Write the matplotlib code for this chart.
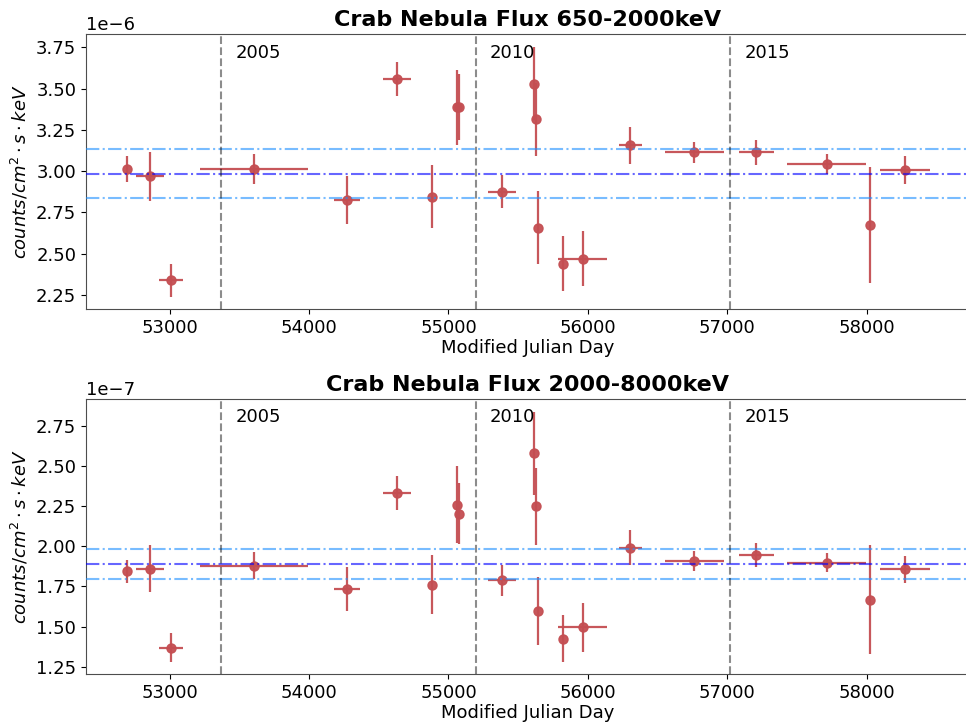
import numpy as np
import matplotlib
matplotlib.use('Agg')
import matplotlib.pyplot as plt
import matplotlib.transforms as mtransforms

# --- light curve bins (MJD centre, half width) ---
mjd = [52696, 52861, 53009, 53605, 54273, 54630, 54881, 55062, 55078, 55383,
       55613, 55625, 55640, 55824, 55963, 56305, 56764, 57209, 57714, 58027, 58276]
mjd_err = [0, 100, 86, 386, 95, 100, 0, 0, 0, 102,
           0, 0, 0, 0, 177, 85, 210, 126, 284, 0, 177]

# --- 650-2000 keV flux (1e-6 counts/cm2/s/keV) ---
flux_lo = [3.012, 2.968, 2.339, 3.012, 2.823, 3.558, 2.844, 3.385, 3.390, 2.875,
           3.530, 3.313, 2.657, 2.439, 2.470, 3.155, 3.113, 3.113, 3.042, 2.675, 3.006]
flux_lo_err = [0.077, 0.150, 0.100, 0.090, 0.145, 0.105, 0.190, 0.230, 0.200, 0.100,
               0.220, 0.220, 0.220, 0.165, 0.165, 0.113, 0.065, 0.077, 0.060, 0.350, 0.086]

# --- 2000-8000 keV flux (1e-7 counts/cm2/s/keV) ---
flux_hi = [1.844, 1.860, 1.369, 1.879, 1.732, 2.333, 1.761, 2.258, 2.202, 1.788,
           2.580, 2.250, 1.597, 1.425, 1.495, 1.991, 1.910, 1.945, 1.898, 1.667, 1.856]
flux_hi_err = [0.073, 0.145, 0.090, 0.085, 0.137, 0.105, 0.185, 0.240, 0.190, 0.097,
               0.258, 0.240, 0.210, 0.148, 0.153, 0.110, 0.062, 0.074, 0.058, 0.340, 0.083]

# mean flux and +/-5% band
mean_lo, band_lo = 2.985, 0.150
mean_hi, band_hi = 1.888, 0.095

years = ['2005', '2010', '2015']
year_mjd = [53371, 55197, 57023]

panels = [
    ('Crab Nebula Flux 650-2000keV', flux_lo, flux_lo_err, 1e-6, mean_lo, band_lo, (2.165, 3.829)),
    ('Crab Nebula Flux 2000-8000keV', flux_hi, flux_hi_err, 1e-7, mean_hi, band_hi, (1.205, 2.916)),
]

fig = plt.figure(figsize=(9.66, 7.27), dpi=100)
# axes run a bit past the right edge of the canvas
axes = [fig.add_axes([0.089, 0.575, 0.915, 0.378]),
        fig.add_axes([0.089, 0.073, 0.915, 0.378])]

red = '#c44e52'
for ax, (title, f, ferr, scale, mean, band, ylim) in zip(axes, panels):
    y = np.array(f) * scale
    yerr = np.array(ferr) * scale
    ax.errorbar(mjd, y, xerr=mjd_err, yerr=yerr, fmt='o', color=red,
                ms=6.5, elinewidth=1.6, capsize=0, alpha=0.95, zorder=2)

    ax.axhline(mean * scale, color='b', alpha=0.6, ls='-.', lw=1.5, zorder=3)
    ax.axhline((mean + band) * scale, color='dodgerblue', alpha=0.6, ls='-.', lw=1.5, zorder=3)
    ax.axhline((mean - band) * scale, color='dodgerblue', alpha=0.6, ls='-.', lw=1.5, zorder=3)

    trans = mtransforms.blended_transform_factory(ax.transData, ax.transAxes)
    for yr, d in zip(years, year_mjd):
        ax.axvline(d, color='k', alpha=0.45, ls='--', lw=1.5, zorder=4)
        ax.text(d + 100, 0.915, yr, transform=trans, fontsize=13, va='baseline')

    ax.set_xlim(52400, 58740)
    ax.set_ylim(ylim[0] * scale, ylim[1] * scale)
    ax.set_title(title, fontsize=16, fontweight='bold')
    ax.set_xlabel('Modified Julian Day', fontsize=13, labelpad=2)
    ax.set_ylabel(r'$counts/cm^2 \cdot s \cdot keV$', fontsize=13)
    ax.tick_params(labelsize=13)
    ax.yaxis.get_offset_text().set_fontsize(13)
    for sp in ax.spines.values():
        sp.set_color('0.3')

fig.savefig('out.png', dpi=100)
